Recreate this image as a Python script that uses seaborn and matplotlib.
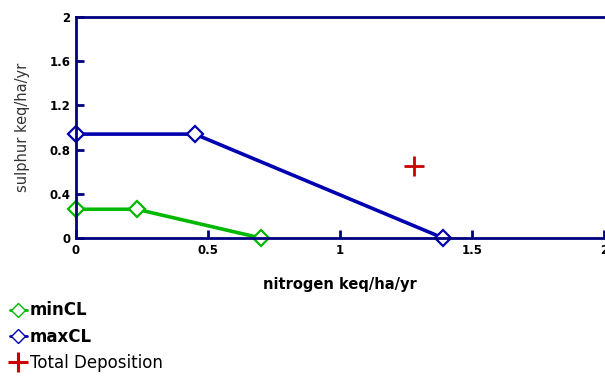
import numpy as np
import pandas as pd
import seaborn as sns
import matplotlib.pyplot as plt
from matplotlib.lines import Line2D

# 데이터
min_n = [0.0, 0.23, 0.70]
min_s = [0.26, 0.26, 0.0]
max_n = [0.0, 0.45, 1.39]
max_s = [0.94, 0.94, 0.0]
dep_n = [1.28]
dep_s = [0.65]
ticks_x = [0, 0.5, 1, 1.5, 2]
ticks_y = [0, 0.4, 0.8, 1.2, 1.6, 2]

green = '#00b800'
blue = '#0000b0'
navy = '#000080'
red = '#cc0000'

sns.set_theme(style='white')
plt.rcParams['font.family'] = ['DejaVu Sans']
plt.rcParams['text.color'] = 'black'
plt.rcParams['axes.labelcolor'] = 'black'
plt.rcParams['xtick.color'] = 'black'
plt.rcParams['ytick.color'] = 'black'

fig = plt.figure(figsize=(6.05, 3.76), dpi=100)
ax = fig.add_axes([0.1256, 0.367, 0.873, 0.588])

df_min = pd.DataFrame({'n': min_n, 's': min_s})
df_max = pd.DataFrame({'n': max_n, 's': max_s})
df_dep = pd.DataFrame({'n': dep_n, 's': dep_s})

sns.lineplot(data=df_min, x='n', y='s', ax=ax, color=green, lw=2.6, marker='D',
             markersize=8, markerfacecolor='white', markeredgecolor=green, markeredgewidth=1.6,
             sort=False, clip_on=False)
sns.lineplot(data=df_max, x='n', y='s', ax=ax, color=blue, lw=2.6, marker='D',
             markersize=8, markerfacecolor='white', markeredgecolor=blue, markeredgewidth=1.6,
             sort=False, clip_on=False)
sns.scatterplot(data=df_dep, x='n', y='s', ax=ax, color=red, marker='+', s=220,
                linewidth=2, clip_on=False)

ax.set_xlim(0, 2)
ax.set_ylim(0, 2)
ax.set_xticks(ticks_x)
ax.set_yticks(ticks_y)
ax.set_xticklabels(['0', '0.5', '1', '1.5', '2'], fontsize=8.5, fontweight='bold')
ax.set_yticklabels(['0', '0.4', '0.8', '1.2', '1.6', '2'], fontsize=8.5, fontweight='bold')
ax.tick_params(direction='in', length=6, width=2, color=navy, pad=4,
               bottom=True, left=True)
for side in ['left', 'bottom', 'top']:
    ax.spines[side].set_color(navy)
    ax.spines[side].set_linewidth(2)
ax.spines['right'].set_visible(False)

ax.set_xlabel('nitrogen keq/ha/yr', fontsize=10.5, fontweight='bold', labelpad=15)
ax.set_ylabel('sulphur keq/ha/yr', fontsize=10.5, color='#333333', labelpad=14)

handles = [
    Line2D([], [], color=green, marker='D', markerfacecolor='white', lw=2, markersize=7),
    Line2D([], [], color=blue, marker='D', markerfacecolor='white', lw=2, markersize=7),
    Line2D([], [], color=red, marker='+', lw=0, markersize=15, markeredgewidth=2.2),
]
leg = fig.legend(handles, ['minCL', 'maxCL', 'Total Deposition'], loc='upper left',
                 bbox_to_anchor=(0.0, 0.225), frameon=False, fontsize=12,
                 handlelength=1.0, handletextpad=0.2, labelspacing=0.5, borderpad=0.1)
for t in leg.get_texts()[:2]:
    t.set_fontweight('bold')

fig.savefig('out.png', dpi=100)
